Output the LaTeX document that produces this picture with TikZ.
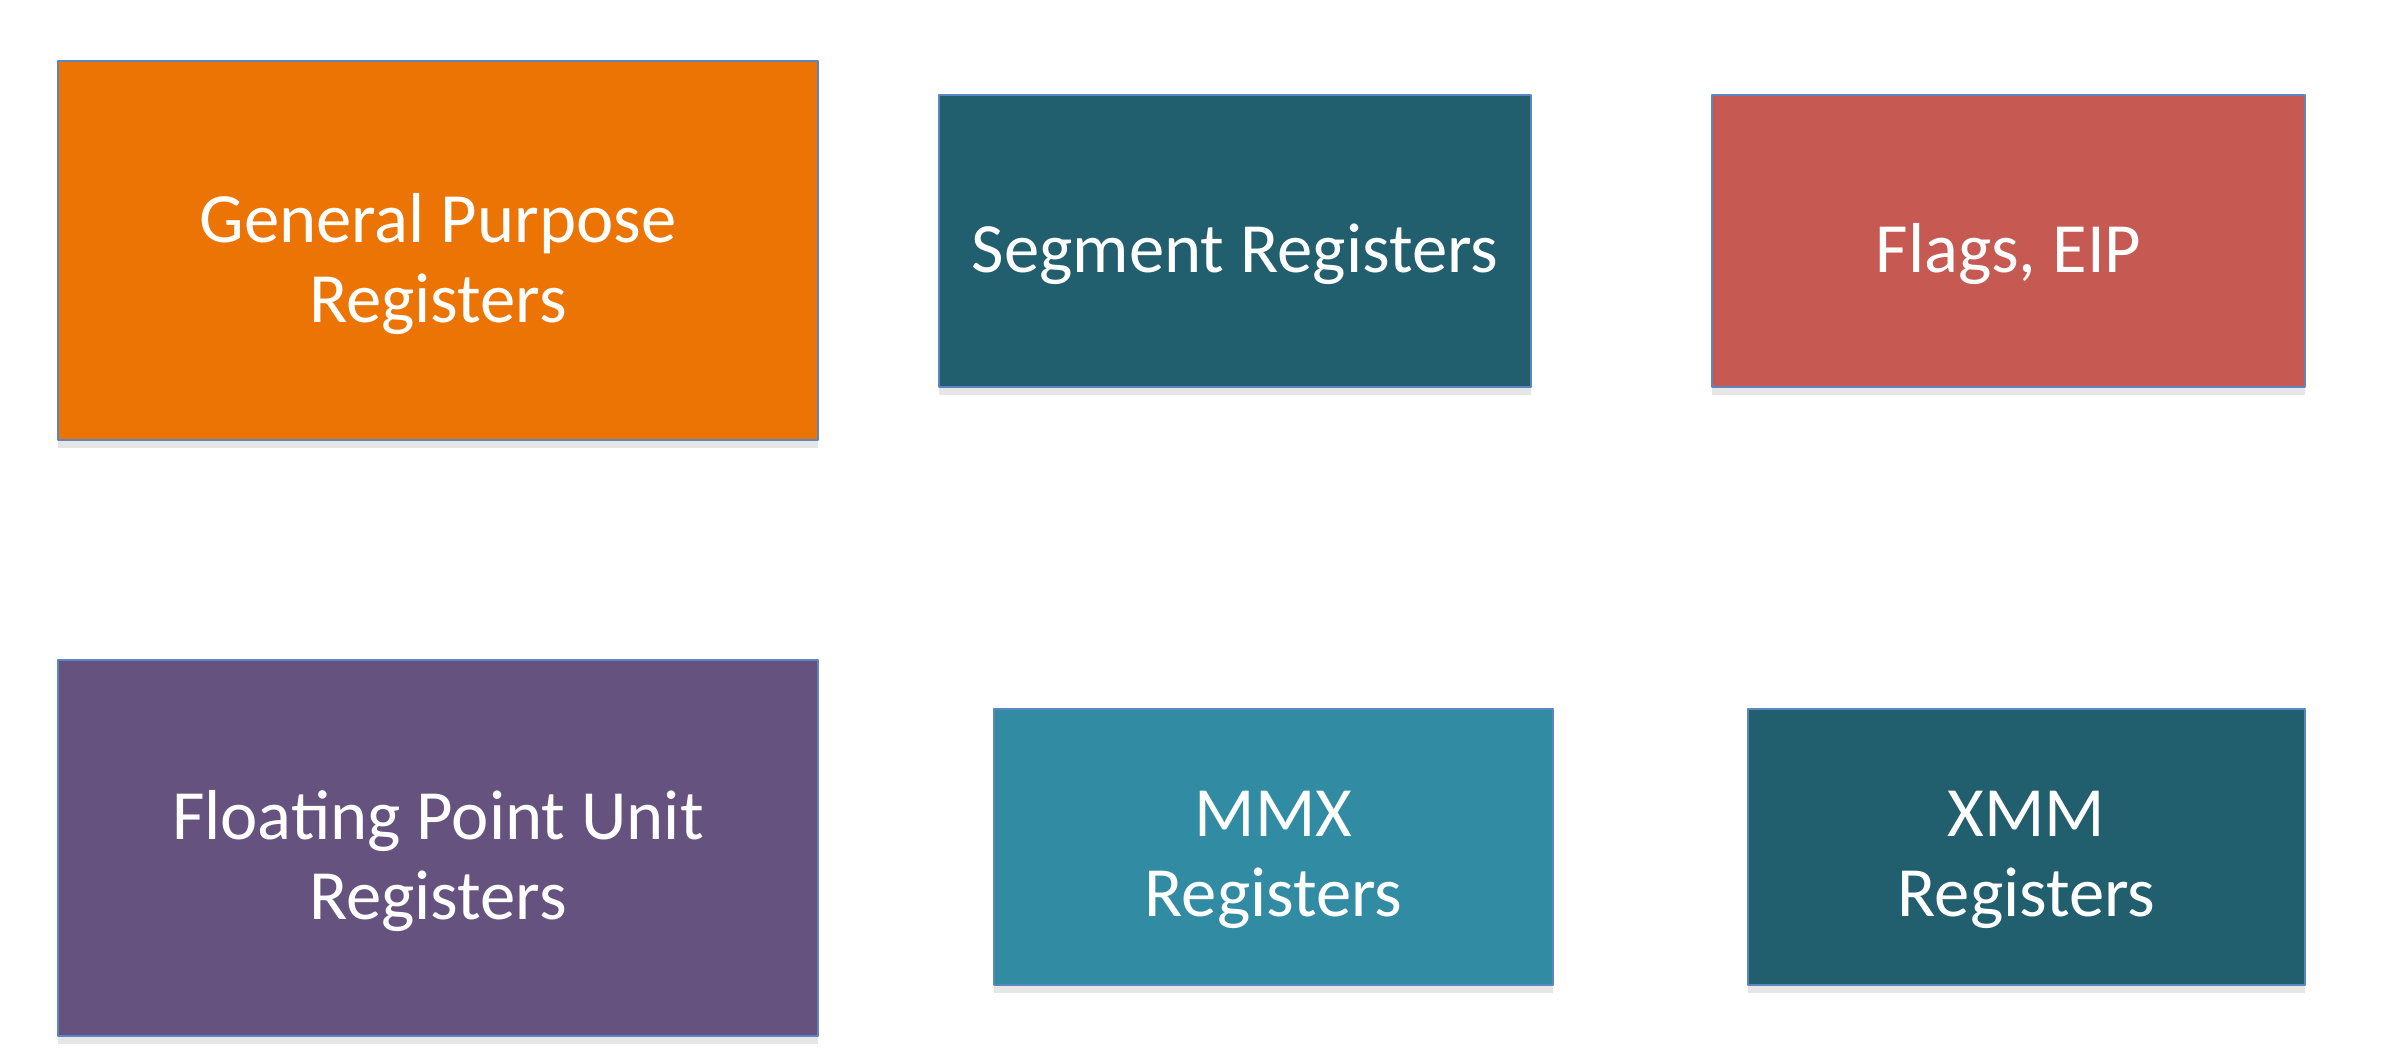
\documentclass[tikz,border=0pt]{standalone}
\usepackage{fontspec}
\setmainfont{Carlito}
\usepackage{xcolor}
\usetikzlibrary{positioning, shadows}

\definecolor{gprorange}{HTML}{EC7405}
\definecolor{segteal}{HTML}{215E6E}
\definecolor{flagred}{HTML}{C65A52}
\definecolor{fpupurple}{HTML}{65527F}
\definecolor{mmxblue}{HTML}{318BA2}
\definecolor{edgeblue}{HTML}{5B86C0}

\begin{document}
\begin{tikzpicture}[x=0.3pt,y=-0.3pt, line cap=round, line join=round,
  regbox/.style={draw=edgeblue, line width=0.4pt, inner sep=0pt,
    drop shadow={opacity=0.2, shadow xshift=0pt, shadow yshift=-2.5pt}},
  regtext/.style={text=white, align=center, inner sep=0pt, yshift=-4pt,
    font=\fontsize{21.2}{24}\selectfont}]

\useasboundingbox (0,0) rectangle (2406,1060);

% top row
\node[regbox, fill=gprorange, minimum width=228pt, minimum height=113.7pt,
  label={[regtext]center:General Purpose\\Registers}]
  (gpr) at (438,250.5) {};
\node[regbox, fill=segteal, minimum width=177.6pt, minimum height=87.6pt,
  label={[regtext]center:Segment Registers}]
  (seg) at (1235,241) {};
\node[regbox, fill=flagred, minimum width=177.9pt, minimum height=87.6pt,
  label={[regtext]center:Flags, EIP}]
  (flags) at (2008.5,241) {};

% bottom row
\node[regbox, fill=fpupurple, minimum width=228pt, minimum height=112.8pt,
  label={[regtext]center:Floating Point Unit\\Registers}]
  (fpu) at (438,848) {};
\node[regbox, fill=mmxblue, minimum width=167.7pt, minimum height=82.8pt,
  label={[regtext]center:MMX\\Registers}]
  (mmx) at (1273.5,847) {};
\node[regbox, fill=segteal, minimum width=167.1pt, minimum height=82.8pt,
  label={[regtext]center:XMM\\Registers}]
  (xmm) at (2026.5,847) {};

\end{tikzpicture}
\end{document}
